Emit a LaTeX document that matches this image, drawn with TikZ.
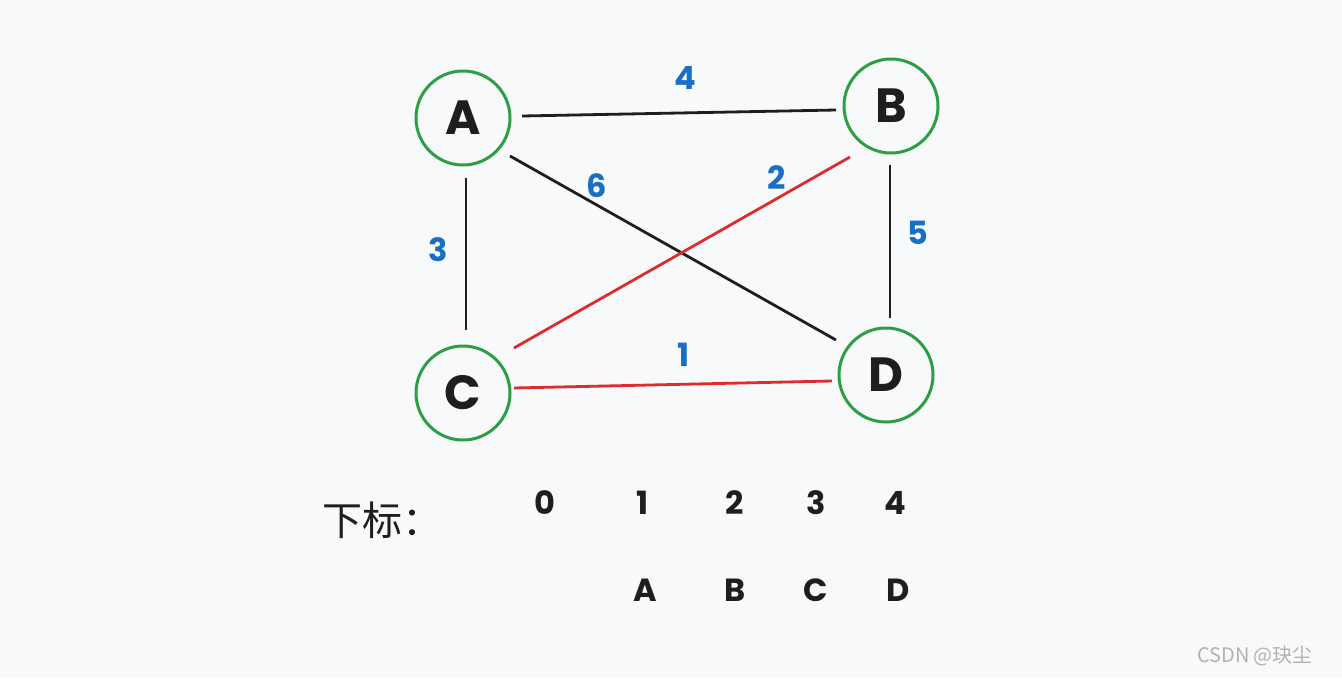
\documentclass[tikz,border=0pt]{standalone}
\usepackage{fontspec}
\setmainfont{Poppins}
\newfontfamily\cjk{Noto Sans CJK SC}
\definecolor{bg}{HTML}{F7F9FB}
\definecolor{gr}{HTML}{2E9E44}
\definecolor{bl}{HTML}{1A6FC4}
\definecolor{rd}{HTML}{DD2C2C}
\definecolor{ink}{HTML}{1E1E1E}
\tikzset{
 vert/.style={circle,draw=gr,line width=3pt,minimum size=94pt,inner sep=0,font=\fontsize{48}{48}\selectfont\bfseries,text=ink},
 wl/.style={font=\fontsize{32}{32}\selectfont\bfseries,text=bl},
 ed/.style={line width=2.8pt,draw=ink},
 red/.style={ed,draw=rd},
 idx/.style={font=\fontsize{32}{32}\selectfont\bfseries,text=ink},
}
\begin{document}
\begin{tikzpicture}[x=1pt,y=-1pt]
\fill[bg] (0,0) rectangle (1342,678);
\useasboundingbox (0,0) rectangle (1342,678);
\node[vert] (A) at (463,118) {A};
\node[vert] (B) at (891,106) {B};
\node[vert] (C) at (463,393) {C};
\node[vert] (D) at (886,375) {D};
\coordinate (ab1) at (522,116); \coordinate (ab2) at (836,110);
\coordinate (ad1) at (510,156); \coordinate (ad2) at (836,340);
\coordinate (bc1) at (850,157); \coordinate (bc2) at (514,348);
\coordinate (ac1) at (466,178); \coordinate (ac2) at (466,330);
\coordinate (bd1) at (890,165); \coordinate (bd2) at (890,318);
\coordinate (cd1) at (514,388); \coordinate (cd2) at (832,381);
\draw[ed] (ab1) -- (ab2);
\draw[ed] (ad1) -- (ad2);
\draw[red] (bc1) -- (bc2);
\draw[ed] (ac1) -- (ac2);
\draw[ed] (bd1) -- (bd2);
\draw[red] (cd1) -- (cd2);
\node[wl] (l4) at (685,78) {4};
\node[wl] (l6) at (597,186) {6};
\node[wl] (l2) at (777,178) {2};
\node[wl] (l3) at (438,250) {3};
\node[wl] (l5) at (918,233) {5};
\node[wl] (l1) at (684,355) {1};
\node[font=\cjk\fontsize{40}{40}\selectfont,text=ink] (t) at (382,520) {下标：};
\node[idx] (n0) at (545,503) {0};
\node[idx] (n1) at (643,503) {1};
\node[idx] (n2) at (735,503) {2};
\node[idx] (n3) at (816,503) {3};
\node[idx] (n4) at (895,503) {4};
\node[idx] (cA) at (645,590) {A};
\node[idx] (cB) at (735,590) {B};
\node[idx] (cC) at (816,590) {C};
\node[idx] (cD) at (898,590) {D};
\node[font=\cjk\fontsize{20}{20}\selectfont,text=black!30] (wm) at (1255,656) {CSDN @玦尘};
\end{tikzpicture}
\end{document}
